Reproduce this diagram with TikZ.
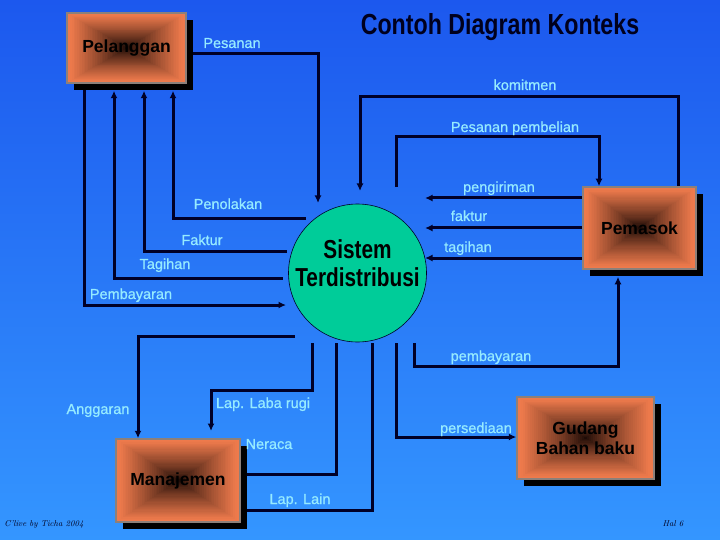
\documentclass[tikz,border=0pt]{standalone}
\usepackage{fontspec}
\usepackage{graphicx}
\newfontfamily\arialf{Liberation Sans}
\newfontfamily\labf{Liberation Sans}[FakeBold=0.8]
\usetikzlibrary{arrows.meta,calc,shadows}
\definecolor{bgTop}{RGB}{28,88,238}
\definecolor{bgBot}{RGB}{52,150,255}
\definecolor{labC}{RGB}{150,235,255}
\definecolor{lineC}{RGB}{0,0,40}
\definecolor{boxO}{RGB}{238,122,76}
\definecolor{boxD}{RGB}{20,6,3}
\definecolor{boxB}{RGB}{140,128,122}
\definecolor{sisG}{RGB}{0,204,153}
\definecolor{titC}{RGB}{0,0,30}
\pgfdeclarelayer{bg}
\pgfdeclarelayer{lines}
\pgfsetlayers{bg,lines,main}
\begin{document}
\begin{tikzpicture}[x=1pt,y=-1pt,
  lab/.style={font=\labf\fontsize{14.5}{16}\selectfont, text=labC, inner sep=0pt, anchor=base},
  conn/.style={draw=lineC, line width=3pt},
  arr/.style={conn, -{Latex[length=7.5pt,width=7pt]}},
  ent/.style={rectangle, draw=boxB, line width=1.5pt, inner sep=0pt, align=center,
     font=\arialf\bfseries\fontsize{17.5}{20}\selectfont, text=black,
     drop shadow={shadow xshift=7pt,shadow yshift=-7pt,fill=black,opacity=1},
     path picture={
       \foreach \gi in {0,...,36}{
         \pgfmathsetmacro\gs{1-\gi/36}
         \pgfmathtruncatemacro\gp{min(100,100*(\gs/0.95)^0.8)}
         \fill[boxO!\gp!boxD] ($(path picture bounding box.center)!\gs!(path picture bounding box.south west)$) rectangle ($(path picture bounding box.center)!\gs!(path picture bounding box.north east)$);
       }
     }},
  foot/.style={font=\itshape\fontsize{8.5}{9}\selectfont, text=titC, inner sep=0pt, anchor=base}
]
\useasboundingbox (0,0) rectangle (720,540);
\begin{pgfonlayer}{bg}
\shade[top color=bgTop, bottom color=bgBot] (0,0) rectangle (720,540);
\end{pgfonlayer}

% entities
\node[ent, minimum width=119pt, minimum height=70pt] (pel) at (126.5,48) {Pelanggan};
\node[ent, minimum width=113pt, minimum height=82pt] (pem) at (639.5,228) {Pemasok};
\node[ent, minimum width=124pt, minimum height=83pt] (man) at (178,480.5) {Manajemen};
\node[ent, minimum width=137pt, minimum height=82pt] (gud) at (585.5,438) {Gudang\\Bahan baku};

% process
\node[circle, fill=sisG, draw=lineC, line width=0.6pt, minimum size=138pt, inner sep=0pt] (sis) at (357.5,273) {};
\node[font=\arialf\bfseries\fontsize{26}{28}\selectfont, align=center, inner sep=0pt, text=black] (sisT) at (357.5,263.5)
  {\scalebox{0.8}[1]{Sistem}\\\scalebox{0.8}[1]{Terdistribusi}};

% title
\node[font=\arialf\bfseries\fontsize{29}{32}\selectfont, text=titC, inner sep=0pt, anchor=base] (title) at (500,35)
  {\scalebox{0.8}[1]{Contoh Diagram Konteks}};

% coordinates
\coordinate (pelS) at ([yshift=-7pt]pel.south);
\coordinate (pemS) at ([yshift=-7pt]pem.south);
\coordinate (tPes) at (318,203);
\coordinate (tPemb) at (286,305);
\coordinate (sTag) at (283,278);
\coordinate (sFak) at (287,251);
\coordinate (sPen) at (306,219);
\coordinate (tKom) at (360,191);
\coordinate (sPP) at (396,187);
\coordinate (tPeng) at (425,198);
\coordinate (tFak) at (425,228);
\coordinate (tTag) at (425,258);
\coordinate (sPb) at (414,343);
\coordinate (sPer) at (396,343);
\coordinate (sAng) at (295,336);
\coordinate (sLab) at (312,343);
\coordinate (tLab) at (211,431);
\coordinate (sNer) at (336,343);
\coordinate (sLL) at (372,343);

\begin{pgfonlayer}{lines}
\draw[arr] (pel.east |- 0,54) -| (tPes);
\draw[arr] (pel.south -| 84,0) |- (tPemb);
\draw[arr] (sTag) -| (pelS -| 114,0);
\draw[arr] (sFak) -| (pelS -| 144,0);
\draw[arr] (sPen) -| (pelS -| 173,0);
\draw[arr] (pem.north -| 678,0) |- (360,97) -- (tKom);
\draw[arr] (sPP) |- (599,137) -- (pem.north -| 599,0);
\draw[arr] (pem.west |- 0,198) -- (tPeng);
\draw[arr] (pem.west |- 0,228) -- (tFak);
\draw[arr] (pem.west |- 0,258) -- (tTag);
\draw[arr] (sPb) |- (618,366) -- (pemS -| 618,0);
\draw[arr] (sPer) |- (gud.west |- 0,437);
\draw[arr] (sAng) -| (man.north -| 138,0);
\draw[arr] (sLab) |- (211,390) -- (tLab);
\draw[conn] (sNer) |- (man.east |- 0,474);
\draw[conn] (sLL) |- (man.east |- 0,510);
\end{pgfonlayer}

% labels
\node[lab] (lPes) at (232,48) {Pesanan};
\node[lab] (lKom) at (525,90) {komitmen};
\node[lab] (lPP) at (515,132) {Pesanan pembelian};
\node[lab] (lPeng) at (499,192) {pengiriman};
\node[lab] (lFak2) at (469,221) {faktur};
\node[lab] (lTag2) at (468,252) {tagihan};
\node[lab] (lPen) at (228,209) {Penolakan};
\node[lab] (lFak) at (202,245) {Faktur};
\node[lab] (lTag) at (165,269) {Tagihan};
\node[lab] (lPemb) at (131,299) {Pembayaran};
\node[lab] (lPb) at (491,361) {pembayaran};
\node[lab] (lPer) at (476,433) {persediaan};
\node[lab] (lAng) at (98,414) {Anggaran};
\node[lab] (lLab) at (263,408) {Lap. Laba rugi};
\node[lab] (lNer) at (269,449) {Neraca};
\node[lab] (lLL) at (300,504) {Lap. Lain};

% footer
\node[foot] (cr) at (44,526) {C'live by Ticha 2004};
\node[foot] (hal) at (673,526) {Hal 6};
\end{tikzpicture}
\end{document}
